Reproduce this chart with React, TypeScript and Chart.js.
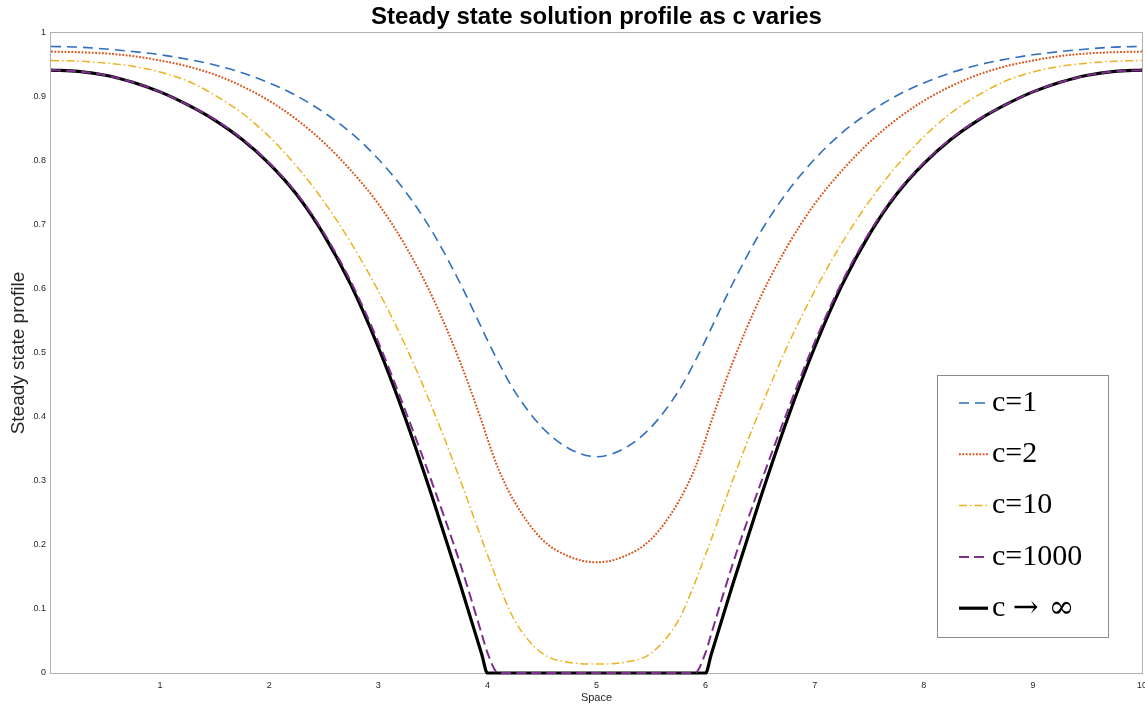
import React, { useEffect, useRef } from "react";
import { Chart, registerables } from "chart.js";

Chart.register(...registerables);

// Space coordinate (shared by all series)
const xs = [
  0, 0.25, 0.5, 0.75, 1, 1.25, 1.5, 1.75, 2, 2.25, 2.5, 2.75, 3, 3.25, 3.5, 3.75, 3.95, 4, 4.1, 4.25, 4.5, 4.75, 5,
  5.25, 5.5, 5.75, 5.9, 6, 6.05, 6.25, 6.5, 6.75, 7, 7.25, 7.5, 7.75, 8, 8.25, 8.5, 8.75, 9, 9.25, 9.5, 9.75, 10,
];

const c1 = [
  0.979, 0.978, 0.975, 0.971, 0.966, 0.959, 0.95, 0.938, 0.922, 0.902, 0.876, 0.844, 0.803, 0.752, 0.688, 0.609, 0.538, 0.52, 0.486, 0.44, 0.384, 0.3505, 0.338,
  0.3505, 0.384, 0.44, 0.486, 0.52, 0.538, 0.609, 0.688, 0.752, 0.803, 0.844, 0.876, 0.902, 0.922, 0.938, 0.95, 0.959, 0.966, 0.971, 0.975, 0.978, 0.979,
];

const c2 = [
  0.971, 0.97, 0.968, 0.964, 0.957, 0.948, 0.935, 0.917, 0.894, 0.865, 0.829, 0.785, 0.733, 0.667, 0.586, 0.486, 0.392, 0.366, 0.319, 0.267, 0.209, 0.182, 0.173,
  0.182, 0.209, 0.267, 0.319, 0.366, 0.392, 0.486, 0.586, 0.667, 0.733, 0.785, 0.829, 0.865, 0.894, 0.917, 0.935, 0.948, 0.957, 0.964, 0.968, 0.97, 0.971,
];

const c10 = [
  0.957, 0.956, 0.953, 0.948, 0.939, 0.925, 0.903, 0.875, 0.838, 0.792, 0.737, 0.672, 0.597, 0.511, 0.412, 0.302, 0.208, 0.185, 0.14, 0.082, 0.031, 0.0165, 0.014,
  0.0165, 0.031, 0.082, 0.14, 0.185, 0.208, 0.302, 0.412, 0.511, 0.597, 0.672, 0.737, 0.792, 0.838, 0.875, 0.903, 0.925, 0.939, 0.948, 0.953, 0.956, 0.957,
];

const c1000 = [
  0.942, 0.94, 0.934, 0.923, 0.908, 0.888, 0.865, 0.835, 0.797, 0.75, 0.688, 0.611, 0.517, 0.409, 0.294, 0.171, 0.06, 0.032, 0, 0, 0, 0, 0,
  0, 0, 0, 0, 0.032, 0.06, 0.171, 0.294, 0.409, 0.517, 0.611, 0.688, 0.75, 0.797, 0.835, 0.865, 0.888, 0.908, 0.923, 0.934, 0.94, 0.942,
];

const cInf = [
  0.942, 0.94, 0.934, 0.923, 0.908, 0.888, 0.864, 0.834, 0.796, 0.748, 0.685, 0.606, 0.509, 0.397, 0.272, 0.139, 0.028, 0, 0, 0, 0, 0, 0,
  0, 0, 0, 0, 0, 0.028, 0.139, 0.272, 0.397, 0.509, 0.606, 0.685, 0.748, 0.796, 0.834, 0.864, 0.888, 0.908, 0.923, 0.934, 0.94, 0.942,
];

const seriesLabels = ["c=1", "c=2", "c=10", "c=1000", "c \u2192 \u221E"];
const seriesColors = ["#2F6EC0", "#D95319", "#EDB120", "#7E2F8E", "#000000"];

const titleText = "Steady state solution profile as c varies";
const xTitle = "Space";
const yTitle = "Steady state profile";

const SANS = "'Liberation Sans', Arial, Helvetica, sans-serif";
const SERIF = "'Liberation Serif', 'Times New Roman', serif";
const SYMBOL_SERIF = "'DejaVu Serif', serif";

const framePlugin = {
  id: "frame",
  beforeDatasetsDraw(chart: any) {
    const { ctx, chartArea } = chart;
    ctx.save();
    ctx.strokeStyle = "#b0b0b0";
    ctx.lineWidth = 1;
    ctx.strokeRect(
      Math.round(chartArea.left) - 0.5,
      Math.round(chartArea.top) - 0.5,
      Math.round(chartArea.right - chartArea.left) + 1,
      Math.round(chartArea.bottom - chartArea.top) + 1
    );
    ctx.restore();
  },
};

const legendPlugin = {
  id: "customLegend",
  afterDraw(chart: any) {
    const { ctx, chartArea } = chart;
    const w = 171;
    const h = 262;
    const right = chartArea.right - 34;
    const bottom = chartArea.bottom - 36;
    const left = right - w;
    const top = bottom - h;
    ctx.save();
    ctx.fillStyle = "#ffffff";
    ctx.fillRect(left, top, w, h);
    ctx.strokeStyle = "#8c8c8c";
    ctx.lineWidth = 1;
    ctx.strokeRect(Math.round(left) + 0.5, Math.round(top) + 0.5, w, h);
    chart.data.datasets.forEach((ds: any, i: number) => {
      const y = top + 28 + i * 51.3;
      ctx.beginPath();
      ctx.setLineDash(ds.borderDash || []);
      ctx.strokeStyle = ds.borderColor;
      ctx.lineWidth = ds.borderWidth;
      ctx.moveTo(left + 22, y);
      ctx.lineTo(left + 51, y);
      ctx.stroke();
      ctx.setLineDash([]);
      ctx.fillStyle = "#000";
      ctx.textBaseline = "middle";
      ctx.textAlign = "left";
      const label: string = ds.label;
      const sp = label.indexOf(" ");
      if (sp > 0) {
        // "c" in the serif text face, arrow and infinity in a face with wide math glyphs
        const head = label.slice(0, sp + 1);
        const tail = label.slice(sp + 1);
        ctx.font = `30px ${SERIF}`;
        ctx.fillText(head, left + 55, y);
        const hw = ctx.measureText(head).width;
        ctx.font = `31px ${SYMBOL_SERIF}`;
        ctx.fillText(tail, left + 55 + hw, y + 1);
      } else {
        ctx.font = `30px ${SERIF}`;
        ctx.fillText(label, left + 55, y);
      }
    });
    ctx.restore();
  },
};

export default function App() {
  const ref = useRef<HTMLCanvasElement>(null);

  useEffect(() => {
    if (!ref.current) return;
    const pts = (ys: number[]) => xs.map((x, i) => ({ x, y: ys[i] }));
    const allSeries = [c1, c2, c10, c1000, cInf];
    const dashes = [[10, 6], [1.8, 1.6], [8, 3, 1.5, 3], [10, 5], []];
    const widths = [1.6, 2, 1.5, 2, 3.2];

    const chart = new Chart(ref.current, {
      type: "line",
      data: {
        datasets: allSeries.map((ys, i) => ({
          label: seriesLabels[i],
          data: pts(ys),
          borderColor: seriesColors[i],
          backgroundColor: seriesColors[i],
          borderWidth: widths[i],
          borderDash: dashes[i],
          pointRadius: 0,
          fill: false,
          clip: 4,
          cubicInterpolationMode: "monotone",
        })),
      },
      options: {
        responsive: false,
        animation: false,
        layout: { padding: { left: 0, right: 3, top: 0, bottom: 0 } },
        plugins: {
          legend: { display: false },
          tooltip: { enabled: false },
          title: {
            display: true,
            text: titleText,
            fullSize: false,
            color: "#000",
            font: { size: 24, weight: "bold", family: SANS },
            padding: { top: 3, bottom: 1.2 },
          },
        },
        scales: {
          x: {
            type: "linear",
            min: 0,
            max: 10,
            grid: { display: false, drawTicks: false },
            border: { display: false },
            ticks: {
              stepSize: 1,
              padding: 7,
              color: "#262626",
              font: { size: 9, family: SANS },
              maxRotation: 0,
              autoSkip: false,
              callback: (v: any) => (v === 0 ? "" : String(v)),
            },
            title: {
              display: true,
              text: xTitle,
              color: "#262626",
              font: { size: 11, family: SANS },
              padding: { top: 0, bottom: 2.4 },
            },
            afterFit: (s: any) => {
              s.height = 34;
              s.paddingLeft = 0;
              s.paddingRight = 0;
            },
          },
          y: {
            type: "linear",
            min: 0,
            max: 1,
            grid: { display: false, drawTicks: false },
            border: { display: false },
            ticks: {
              stepSize: 0.1,
              padding: 5,
              color: "#262626",
              font: { size: 9, family: SANS },
              callback: (v: any) => String(Math.round(Number(v) * 10) / 10),
            },
            title: {
              display: true,
              text: yTitle,
              color: "#262626",
              font: { size: 19, family: SANS },
              padding: { top: 7.6, bottom: 0 },
            },
            afterFit: (s: any) => {
              s.width = 51;
              s.paddingTop = 0;
              s.paddingBottom = 0;
            },
          },
        },
      },
      plugins: [framePlugin, legendPlugin],
    } as any);

    return () => chart.destroy();
  }, []);

  return (
    <canvas
      ref={ref}
      width={1145}
      height={707}
      style={{ position: "absolute", left: 0, top: 0, display: "block" }}
    />
  );
}
